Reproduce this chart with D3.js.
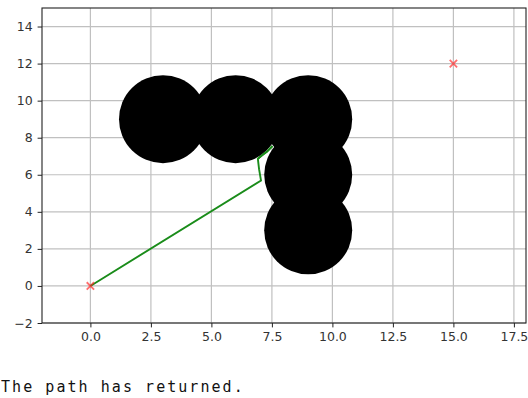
<!DOCTYPE html>
<html>
<head>
<meta charset="UTF-8">
<script src="https://d3js.org/d3.v7.min.js"></script>
<style>
  body { margin: 0; background: #fff; }
  #out { position: absolute; left: 1px; top: 378px; font: 15px "DejaVu Sans Mono", monospace;
         letter-spacing: 2.05px; color: #111; white-space: pre; }
</style>
</head>
<body>
<div id="chart"></div>
<div id="out">The path has returned.</div>
<script>
// obstacles (data coords)
var obstX = [3, 6, 9, 9, 9];
var obstY = [9, 9, 9, 6, 3];
// found path
var pathX = [0, 7.05, 6.97, 6.92, 7.08, 7.3, 7.52];
var pathY = [0, 5.69, 6.3, 6.86, 7.04, 7.25, 7.55];
// start and goal
var endX = [0, 15];
var endY = [0, 12];
var xTicks = [0, 2.5, 5, 7.5, 10, 12.5, 15, 17.5];
var yTicks = [-2, 0, 2, 4, 6, 8, 10, 12, 14];

var W = 528, H = 398;
var margin = {top: 8, right: 2, bottom: 75, left: 42};
var width = W - margin.left - margin.right,
    height = H - margin.top - margin.bottom;

var svg = d3.select("#chart").append("svg")
    .attr("width", W).attr("height", H)
  .append("g")
    .attr("transform", "translate(" + margin.left + "," + margin.top + ")");

var x = d3.scaleLinear().domain([-2, 18]).range([0, width]);
var y = d3.scaleLinear().domain([-2, 15]).range([height, 0]);

// grid
svg.append("g").selectAll("line").data(xTicks).enter().append("line")
    .attr("x1", d => x(d)).attr("x2", d => x(d)).attr("y1", 0).attr("y2", height)
    .attr("stroke", "#c0c0c0").attr("stroke-width", 1.2);
svg.append("g").selectAll("line").data(yTicks).enter().append("line")
    .attr("y1", d => y(d)).attr("y2", d => y(d)).attr("x1", 0).attr("x2", width)
    .attr("stroke", "#c0c0c0").attr("stroke-width", 1.2);

// path
var pts = pathX.map((d, i) => [d, pathY[i]]);
svg.append("path").datum(pts)
    .attr("fill", "none").attr("stroke", "#1a8c1a").attr("stroke-width", 1.9)
    .attr("d", d3.line().x(d => x(d[0])).y(d => y(d[1])));

// obstacles
svg.append("g").selectAll("circle").data(obstX).enter().append("circle")
    .attr("cx", d => x(d)).attr("cy", (d, i) => y(obstY[i])).attr("r", 44)
    .attr("fill", "#000");

// redraw the visible bit of path on top near the corner
svg.append("path").datum(pts.slice(3))
    .attr("fill", "none").attr("stroke", "#1a8c1a").attr("stroke-width", 1.9)
    .attr("d", d3.line().x(d => x(d[0])).y(d => y(d[1])));

// start/goal markers
svg.append("g").selectAll("path").data(endX).enter().append("path")
    .attr("transform", (d, i) => "translate(" + x(d) + "," + y(endY[i]) + ")")
    .attr("d", "M-3.7,-3.7L3.7,3.7M-3.7,3.7L3.7,-3.7")
    .attr("stroke", "#ff2020").attr("stroke-opacity", 0.65).attr("stroke-width", 1.8);

// axes
var fmt = d3.format(".1f");
var minus = s => s.replace("-", "\u2212");
var xAxis = svg.append("g").attr("transform", "translate(0," + height + ")")
    .call(d3.axisBottom(x).tickValues(xTicks).tickFormat(d => minus(fmt(d))).tickSize(4.4).tickPadding(4.5));
var yAxis = svg.append("g")
    .call(d3.axisLeft(y).tickValues(yTicks).tickFormat(d => minus(String(d))).tickSize(4.4).tickPadding(5));
[xAxis, yAxis].forEach(function(a) {
  a.select(".domain").remove();
  a.selectAll("text").attr("font-family", "DejaVu Sans").attr("font-size", 12.5).attr("fill", "#333");
  a.selectAll("line").attr("stroke", "#222").attr("stroke-width", 1);
});
svg.append("rect").attr("width", width).attr("height", height)
    .attr("fill", "none").attr("stroke", "#222").attr("stroke-width", 1.1);
</script>
</body>
</html>
